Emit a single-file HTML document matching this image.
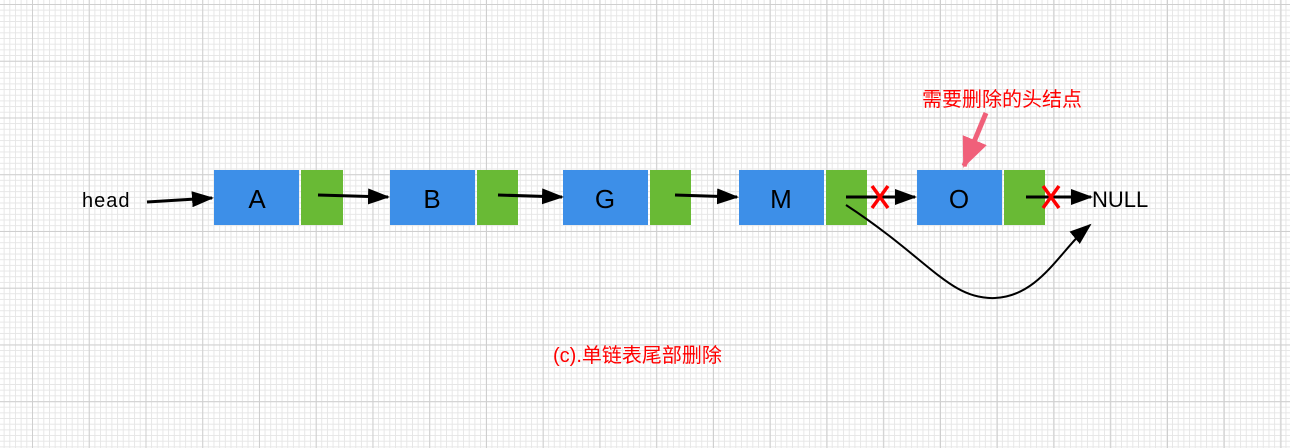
<!DOCTYPE html>
<html><head><meta charset="utf-8"><style>
html,body{margin:0;padding:0}
body{width:1290px;height:448px;overflow:hidden;background:#fff;position:relative;font-family:"Liberation Sans","Noto Sans CJK SC",sans-serif}
.grid{position:absolute;inset:0;
background-image:
linear-gradient(to right,#cfcfcf 1px,transparent 1px),
linear-gradient(to bottom,#cfcfcf 1px,transparent 1px),
linear-gradient(to right,#e6e6e6 1px,transparent 1px),
linear-gradient(to bottom,#e6e6e6 1px,transparent 1px);
background-size:56.75px 56.75px,56.75px 56.75px,5.675px 5.675px,5.675px 5.675px;
background-position:32px 4px,32px 4px,32px 4px,32px 4px}
</style></head><body>
<div class="grid"></div>
<svg width="1290" height="448" style="position:absolute;left:0;top:0" font-family="Liberation Sans, Noto Sans CJK SC, sans-serif">
<defs>
<marker id="ar2" markerWidth="22" markerHeight="16" refX="20" refY="8" orient="auto" markerUnits="userSpaceOnUse"><path d="M0,0 L22,8 L0,16 Z" fill="#000"/></marker>
<marker id="pk" markerWidth="30" markerHeight="26" refX="28" refY="13" orient="auto" markerUnits="userSpaceOnUse"><path d="M0,0 L30,13 L0,26 Z" fill="#f0607a"/></marker></defs>
<g fill="#3d8fe8">
<rect x="214" y="170" width="85" height="55"/><rect x="390" y="170" width="85" height="55"/><rect x="563" y="170" width="85" height="55"/><rect x="739" y="170" width="85" height="55"/><rect x="917" y="170" width="85" height="55"/></g>
<g fill="#69ba35">
<rect x="301" y="170" width="42" height="55"/><rect x="477" y="170" width="41" height="55"/><rect x="650" y="170" width="41" height="55"/><rect x="826" y="170" width="41" height="55"/><rect x="1004" y="170" width="41" height="55"/></g>
<g font-size="26" text-anchor="middle" fill="#000">
<text x="257" y="208">A</text><text x="432" y="208">B</text><text x="605" y="208">G</text><text x="781" y="208">M</text><text x="959" y="208">O</text></g>
<text x="82" y="207" font-size="20" letter-spacing="1">head</text>
<text x="1092" y="207" font-size="22">NULL</text>
<g stroke="#000" stroke-width="3" fill="none" marker-end="url(#ar2)">
<line x1="147" y1="202" x2="212" y2="198"/>
<line x1="318" y1="195" x2="388" y2="197"/>
<line x1="498" y1="195" x2="562" y2="197"/>
<line x1="675" y1="195" x2="737" y2="197"/>
<line x1="846" y1="197" x2="915" y2="197"/>
<line x1="1026" y1="197" x2="1091" y2="197"/>
</g>
<path d="M846,205 C930,260 950,300 995,298 C1040,296 1060,250 1090,225" stroke="#000" stroke-width="2" fill="none" marker-end="url(#ar2)"/>
<g stroke="#f00" stroke-width="3.5"><line x1="872" y1="186" x2="888" y2="208"/><line x1="888" y1="186" x2="872" y2="208"/>
<line x1="1043" y1="186" x2="1059" y2="208"/><line x1="1059" y1="186" x2="1043" y2="208"/></g>
<line x1="986" y1="113" x2="964" y2="166" stroke="#f0607a" stroke-width="5" marker-end="url(#pk)"/>
<text x="922" y="106" font-size="20" fill="#f00">需要删除的头结点</text>
<text x="553" y="362" font-size="20" fill="#f00">(c).单链表尾部删除</text>
</svg>
</body></html>
